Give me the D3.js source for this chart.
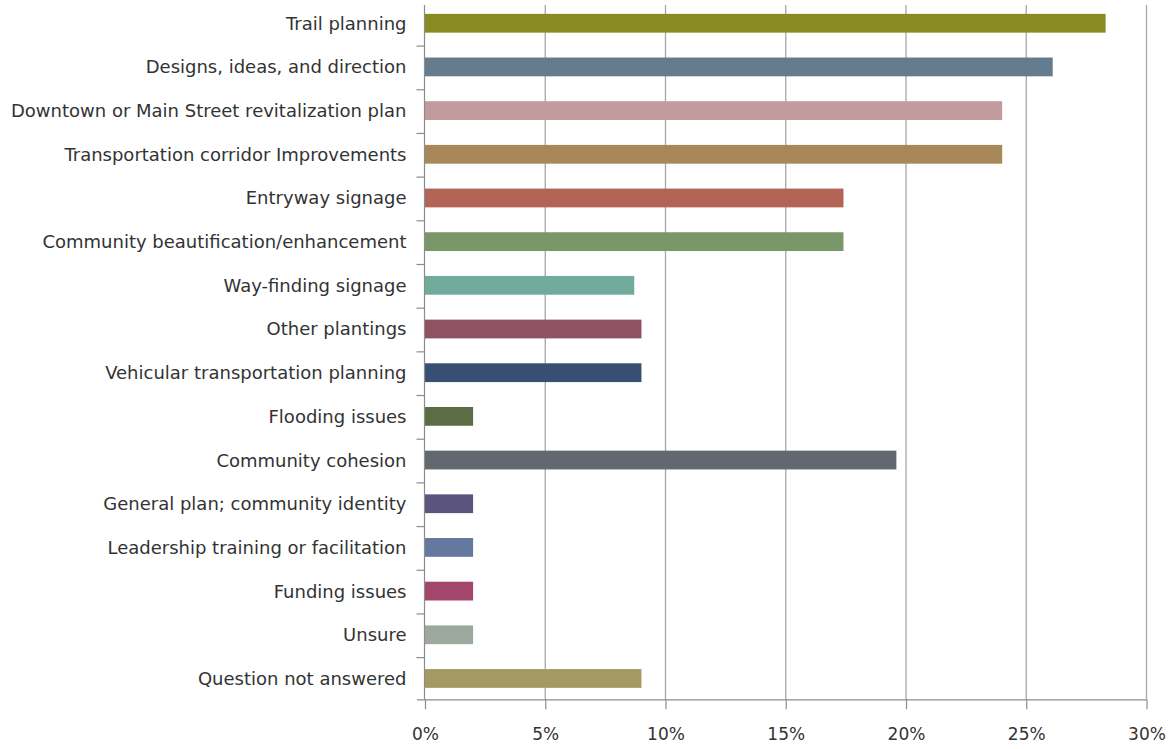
<!DOCTYPE html>
<html>
<head>
<meta charset="utf-8">
<script src="https://cdn.jsdelivr.net/npm/d3@7"></script>
<style>
  html, body { margin: 0; padding: 0; background: #fff; }
  svg { display: block; }
  text { font-family: "DejaVu Sans", sans-serif; fill: #333; }
</style>
</head>
<body>
<svg id="chart" width="1173" height="749"></svg>
<script>
// Categories, top to bottom
const categories = [
  "Trail planning",
  "Designs, ideas, and direction",
  "Downtown or Main Street revitalization plan",
  "Transportation corridor Improvements",
  "Entryway signage",
  "Community beautification/enhancement",
  "Way-finding signage",
  "Other plantings",
  "Vehicular transportation planning",
  "Flooding issues",
  "Community cohesion",
  "General plan; community identity",
  "Leadership training or facilitation",
  "Funding issues",
  "Unsure",
  "Question not answered"
];

// Share of responses (%)
const values = [28.3, 26.1, 24.0, 24.0, 17.4, 17.4, 8.7, 9.0, 9.0, 2.0, 19.6, 2.0, 2.0, 2.0, 2.0, 9.0];

const barColors = [
  "#8a8a22", "#657b8e", "#c29b9f", "#a88858", "#b26555", "#7a9769",
  "#70ab9c", "#8f5262", "#374f73", "#5c6c45", "#636870", "#5b547e",
  "#6478a0", "#a4466c", "#9caa9e", "#a49962"
];

const xTicks = [0, 5, 10, 15, 20, 25, 30];

const svg = d3.select("#chart");
const plotLeft = 425, plotRight = 1146.5, plotTop = 1.4, plotBottom = 700.3, axisY = 699.3;

const x = d3.scaleLinear().domain([0, 30]).range([plotLeft, plotRight]);
const y = d3.scaleBand().domain(categories).range([plotTop, plotBottom]).paddingInner(0.57).paddingOuter(0.285);

// vertical gridlines
svg.append("g").selectAll("line").data(xTicks.slice(1)).join("line")
  .attr("x1", d => x(d)).attr("x2", d => x(d))
  .attr("y1", 5).attr("y2", axisY)
  .attr("stroke", "#a6a6a6").attr("stroke-width", 1.3);

// bars
svg.append("g").selectAll("rect").data(categories).join("rect")
  .attr("x", x(0))
  .attr("y", d => y(d))
  .attr("width", (d, i) => x(values[i]) - x(0))
  .attr("height", y.bandwidth())
  .attr("fill", (d, i) => barColors[i]);

// category axis
const yAxis = svg.append("g").attr("transform", `translate(${plotLeft - 0.5},0)`);
yAxis.append("line").attr("x1", 0).attr("x2", 0).attr("y1", 5).attr("y2", axisY)
  .attr("stroke", "#8c8c8c").attr("stroke-width", 1.2);
const step = y.step();
const bounds = d3.range(1, categories.length).map(i => y(categories[i]) - step * 0.285 + 1);
yAxis.selectAll("line.tick").data(bounds).join("line").attr("class", "tick")
  .attr("x1", -8).attr("x2", 0).attr("y1", d => d).attr("y2", d => d)
  .attr("stroke", "#8c8c8c").attr("stroke-width", 1.2);
yAxis.selectAll("text").data(categories).join("text")
  .attr("x", -18)
  .attr("y", d => y(d) + y.bandwidth() / 2)
  .attr("dy", "0.36em")
  .attr("text-anchor", "end")
  .attr("font-size", 18)
  .text(d => d);

// value axis
const xAxis = d3.axisBottom(x).tickValues(xTicks).tickFormat(d => d + "%").tickSize(10).tickSizeOuter(0).tickPadding(19);
const xg = svg.append("g").attr("transform", `translate(0,${axisY})`).call(xAxis);
xg.select(".domain").attr("stroke", "#8c8c8c").attr("stroke-width", 1.2)
  .attr("d", `M${plotLeft - 8},0.5H${plotRight}`);
xg.selectAll(".tick line").attr("stroke", "#8c8c8c").attr("stroke-width", 1.2);
xg.selectAll(".tick text").attr("font-size", 17).attr("fill", "#333")
  .style("font-family", '"DejaVu Sans", sans-serif');
</script>
</body>
</html>
